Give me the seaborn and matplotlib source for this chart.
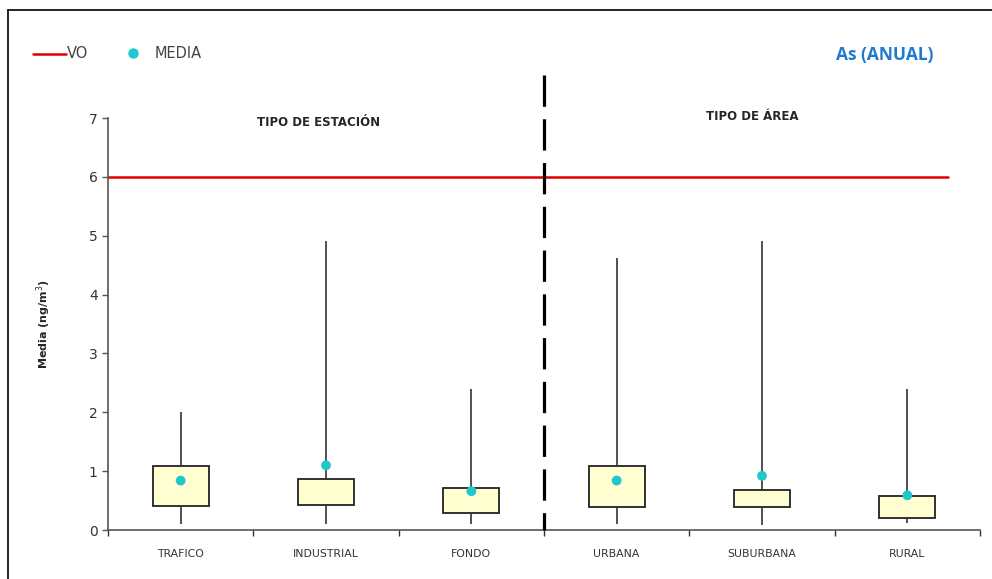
import numpy as np
import pandas as pd
import matplotlib
matplotlib.use("Agg")
import matplotlib.pyplot as plt
from matplotlib.lines import Line2D
import seaborn as sns

categories = ["TRAFICO", "INDUSTRIAL", "FONDO", "URBANA", "SUBURBANA", "RURAL"]
minimum = [0.10, 0.10, 0.10, 0.10, 0.08, 0.12]
q1 = [0.40, 0.43, 0.29, 0.39, 0.39, 0.20]
q3 = [1.09, 0.87, 0.72, 1.09, 0.68, 0.57]
maximum = [2.00, 4.91, 2.39, 4.62, 4.91, 2.39]
means = [0.84, 1.10, 0.66, 0.84, 0.92, 0.59]
vo_limit = 6
yticks = [0, 1, 2, 3, 4, 5, 6, 7]

# five-number rows per category (middle value hidden: median not drawn in reference)
rows = []
for c, a, b, d, e in zip(categories, minimum, q1, q3, maximum):
    for v in (a, b, (b + d) / 2, d, e):
        rows.append({"cat": c, "val": v})
df = pd.DataFrame(rows)
dmean = pd.DataFrame({"cat": categories, "mean": means})

sns.set_theme(style="white")
plt.rcParams["font.family"] = ["DejaVu Sans"]

fig = plt.figure(figsize=(9.92, 5.79), dpi=100)
ax = fig.add_axes([108/992, 1-530/579, (980-108)/992, (530-118)/579])

sns.boxplot(data=df, x="cat", y="val", order=categories, whis=(0, 100), width=0.385,
            color="#FFFFD2", linecolor="black", linewidth=1.3, showfliers=False,
            medianprops=dict(visible=False),
            whiskerprops=dict(color="#333333", linewidth=1.2),
            capprops=dict(visible=False),
            boxprops=dict(facecolor="#FFFFD2", edgecolor="#222222", linewidth=1.3),
            ax=ax)
sns.scatterplot(data=dmean, x="cat", y="mean", color="#1FC8CC", s=50, edgecolor="none",
                zorder=5, ax=ax, legend=False)

ax.axhline(vo_limit, xmin=0, xmax=(948-108)/872, color="#E00000", lw=1.8, zorder=1)
ax.plot([2.5, 2.5], [7.73, 0], color="black", lw=2.3, linestyle=(0, (9.8, 3.9)),
        clip_on=False, zorder=6)

ax.set_xlim(-0.5, 5.5)
ax.set_ylim(0, 7)
ax.set_yticks(yticks)
ax.set_yticklabels([str(t) for t in yticks], fontsize=10, color="#333333")
ax.set_xticks(range(len(categories)))
ax.set_xticklabels(categories, fontsize=7.8, color="#333333")
ax.set_xticks(np.arange(-0.5, 6, 1), minor=True)
ax.tick_params(axis="x", which="major", length=0, pad=14)
ax.tick_params(axis="x", which="minor", length=4, width=1, color="#333333", direction="out", bottom=True)
ax.tick_params(axis="y", length=4, width=1, color="#555555", direction="out", left=True)
ax.set_xlabel("")
ax.set_ylabel("Media (ng/m$^3$)", fontsize=8, fontweight="bold", labelpad=26)
for s in ("top", "right"):
    ax.spines[s].set_visible(False)
for s in ("left", "bottom"):
    ax.spines[s].set_color("#555555")
    ax.spines[s].set_linewidth(1.2)

ax.text(0.95, 6.93, "TIPO DE ESTACIÓN", ha="center", va="center", fontsize=8.5,
        fontweight="bold", family=["Liberation Sans Narrow", "DejaVu Sans"])
ax.text(3.93, 7.03, "TIPO DE ÁREA", ha="center", va="center", fontsize=8.5,
        fontweight="bold", family=["Liberation Sans Narrow", "DejaVu Sans"])

fig.text(885/992, 1-55/579, "As (ANUAL)", ha="center", va="center", fontsize=12.5,
         fontweight="bold", color="#1E7ACD", family=["Open Sans", "DejaVu Sans"])

# legend
fig.add_artist(Line2D([33/992, 66/992], [1-54/579, 1-54/579], color="#E00000", lw=1.8))
fig.text(67/992, 1-54/579, "VO", ha="left", va="center", fontsize=10.5, color="#444444")
fig.add_artist(Line2D([133/992], [1-53/579], marker="o", markersize=6.5, color="#1FC8CC", lw=0))
fig.text(155/992, 1-54/579, "MEDIA", ha="left", va="center", fontsize=10.5, color="#444444")

# frame lines
fig.add_artist(Line2D([8/992, 1], [1-10/579, 1-10/579], color="black", lw=1.2))
fig.add_artist(Line2D([8/992, 8/992], [0, 1-10/579], color="black", lw=1.2))

fig.savefig("out.png", dpi=100)
